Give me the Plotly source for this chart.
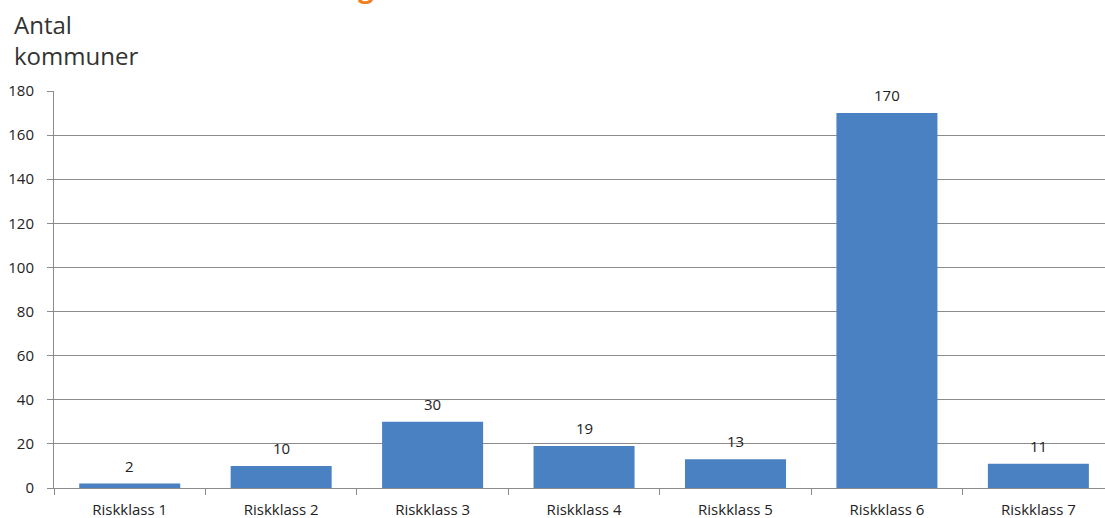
import plotly.graph_objects as go

categories = ["Riskklass 1", "Riskklass 2", "Riskklass 3", "Riskklass 4", "Riskklass 5", "Riskklass 6", "Riskklass 7"]
values = [2, 10, 30, 19, 13, 170, 11]
y_ticks = [0, 20, 40, 60, 80, 100, 120, 140, 160, 180]

PLOT_L, PLOT_R, PLOT_T, PLOT_B = 53.5, 1105, 91, 488
PW = PLOT_R - PLOT_L
PH = PLOT_B - PLOT_T


def px_x(x):
    return (x - PLOT_L) / PW


def px_y(y):
    return (PLOT_B - y) / PH


fig = go.Figure()
fig.add_trace(go.Bar(
    x=categories, y=values,
    marker=dict(color="#4a81c2", line=dict(width=0)),
    width=0.667,
    hoverinfo="skip",
))

for c, v in zip(categories, values):
    fig.add_annotation(x=c, y=v, text=str(v), showarrow=False,
                       yanchor="bottom", yshift=6,
                       font=dict(family="Open Sans", size=15, color="#222222"))

fig.add_annotation(xref="paper", yref="paper", x=px_x(366), y=px_y(-14),
                   text="<b>g</b>", showarrow=False, xanchor="center", yanchor="middle",
                   font=dict(family="Open Sans", size=28, color="#f0821e"))

fig.add_annotation(xref="paper", yref="paper", x=px_x(11), y=px_y(40),
                   text="Antal<br>kommuner", showarrow=False, xanchor="left", yanchor="middle",
                   align="left",
                   font=dict(family="Open Sans", size=24, color="#333333"))

fig.update_layout(
    width=1105, height=518,
    margin=dict(l=PLOT_L, r=0, t=PLOT_T, b=518 - PLOT_B),
    paper_bgcolor="white", plot_bgcolor="white",
    showlegend=False,
    bargap=0.333,
    xaxis=dict(
        type="category", range=[-0.5, 6.44],
        showgrid=False, showline=True, linecolor="#8c8c8c", linewidth=1,
        ticks="outside", tickson="boundaries", ticklen=6, tickcolor="#8c8c8c",
        ticklabelstandoff=8,
        tickfont=dict(family="Open Sans", size=15, color="#222222"),
        fixedrange=True,
    ),
    yaxis=dict(
        range=[0, 180], tickvals=y_ticks,
        showgrid=True, gridcolor="#8c8c8c", gridwidth=1,
        showline=True, linecolor="#8c8c8c", linewidth=1,
        ticks="outside", ticklen=6, tickcolor="#8c8c8c",
        ticklabelstandoff=10,
        tickfont=dict(family="Open Sans", size=15, color="#222222"),
        zeroline=False, fixedrange=True,
    ),
)

fig.write_html("out.html")
